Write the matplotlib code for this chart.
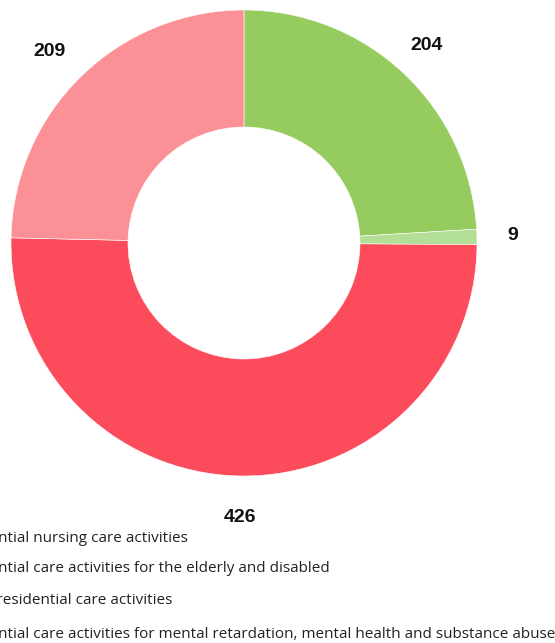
import matplotlib
matplotlib.use("Agg")
import matplotlib.pyplot as plt

categories = [
    "Residential nursing care activities",
    "Residential care activities for the elderly and disabled",
    "Other residential care activities",
    "Residential care activities for mental retardation, mental health and substance abuse",
]
values = [204, 9, 426, 209]
colors = ["#96cc5f", "#b2de96", "#fc4b5b", "#fb9196"]
value_labels = ["204", "9", "426", "209"]

W, H = 555, 643
fig = plt.figure(figsize=(W / 100, H / 100), dpi=100)
ax = fig.add_axes([0, 0, 1, 1])

cx, cy = 244, H - 243
R = 233
ax.pie(values, colors=colors, startangle=90, counterclock=False,
       center=(cx, cy), radius=R,
       wedgeprops=dict(width=117, edgecolor="white", linewidth=0.4))
ax.set_xlim(0, W)
ax.set_ylim(0, H)
ax.set_aspect("equal")
ax.axis("off")

label_pos = [(427, 45), (513, 236), (240, 518), (50, 52)]
for (x, y), t in zip(label_pos, value_labels):
    ax.text(x, H - y, t, ha="center", va="center", fontsize=14,
            fontweight="bold", family="Liberation Sans", color="#111111")

legend_font = dict(fontsize=11, family="Open Sans", color="#222222")
renderer = fig.canvas.get_renderer()
probe = ax.text(0, 0, "Reside", **legend_font)
prefix_w = probe.get_window_extent(renderer).width
probe.remove()

leg_y = [538, 569, 601, 634]
for y, c in zip(leg_y, categories):
    ax.text(-prefix_w - 2, H - y, c, ha="left", va="center", **legend_font)

fig.savefig("out.png", dpi=100)
